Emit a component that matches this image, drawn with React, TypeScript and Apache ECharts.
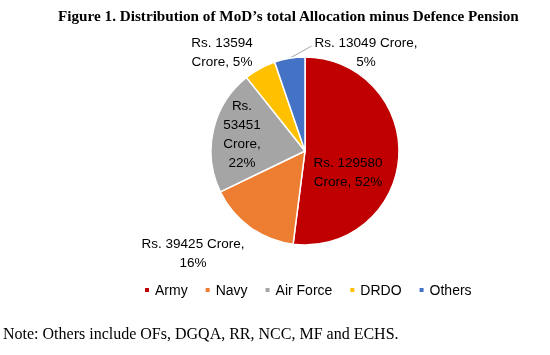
import React, { useEffect, useRef } from "react";
import * as echarts from "echarts";

const categories = ["Army", "Navy", "Air Force", "DRDO", "Others"];
const values = [129580, 39425, 53451, 13594, 13049];
const pctLabels = ["52%", "16%", "22%", "5%", "5%"];
const colors = ["#C00000", "#ED7D31", "#A5A5A5", "#FFC000", "#4472C4"];
// label text templates: {v} value, {p} percent
const labelTemplates = [
  "Rs. {v}\nCrore, {p}",
  "Rs. {v} Crore,\n{p}",
  "Rs.\n{v}\nCrore,\n{p}",
  "Rs. {v}\nCrore, {p}",
  "Rs. {v} Crore,\n{p}",
];
// label block centres (px)
const labelCentres = [
  [348, 172],
  [193, 253],
  [242, 134],
  [222, 52],
  [366, 52],
];

const LABEL_FONT = "Liberation Sans";

export default function App() {
  const ref = useRef<HTMLDivElement>(null);
  useEffect(() => {
    if (!ref.current) return;
    const chart = echarts.init(ref.current, null, { renderer: "svg" });
    const data = categories.map((name, i) => ({
      name,
      value: values[i],
      itemStyle: { color: colors[i] },
      labelLine: i === 4 ? { show: true, length: 4, length2: 4, lineStyle: { color: "#A6A6A6", width: 1 } } : { show: false },
    }));
    chart.setOption({
      animation: false,
      title: {
        text: "Figure 1. Distribution of MoD\u2019s total Allocation minus Defence Pension",
        left: 53,
        top: 3,
        textStyle: { fontFamily: "Liberation Serif", fontWeight: "bold", fontSize: 15.2, color: "#000" },
      },
      legend: {
        left: 143,
        top: 283,
        padding: 0,
        icon: "rect",
        itemWidth: 6,
        itemHeight: 6,
        itemGap: 16,
        data: categories,
        textStyle: { fontFamily: LABEL_FONT, fontSize: 14, color: "#000" },
      },
      graphic: [
        {
          type: "text",
          left: 3,
          top: 325,
          style: {
            text: "Note: Others include OFs, DGQA, RR, NCC, MF and ECHS.",
            font: "16px 'Liberation Serif'",
            fill: "#000",
          },
        },
      ],
      series: [
        {
          type: "pie",
          center: [305, 151],
          radius: 94,
          startAngle: 90,
          clockwise: true,
          itemStyle: { borderColor: "#fff", borderWidth: 1.5 },
          label: {
            show: true,
            position: "outside",
            color: "#000",
            fontFamily: LABEL_FONT,
            fontSize: 13.5,
            lineHeight: 19,
            formatter: (p: any) =>
              labelTemplates[p.dataIndex]
                .replace("{v}", String(p.value))
                .replace("{p}", pctLabels[p.dataIndex]),
          },
          labelLine: { show: false },
          labelLayout: (p: any) => {
            const c = labelCentres[p.dataIndex];
            const out: any = { x: c[0], y: c[1], align: "center", verticalAlign: "middle" };
            if (p.labelLinePoints && p.dataIndex === 4) {
              const start = p.labelLinePoints[0];
              const w = p.labelRect.width;
              out.labelLinePoints = [start, [c[0] - w / 2 - 3, c[1] - 6], [c[0] - w / 2 - 3, c[1] - 6]];
            }
            return out;
          },
          emphasis: { disabled: true },
          data,
        },
      ],
    });
    return () => chart.dispose();
  }, []);
  return <div ref={ref} style={{ position: "fixed", left: 0, top: 0, width: 550, height: 355 }} />;
}
